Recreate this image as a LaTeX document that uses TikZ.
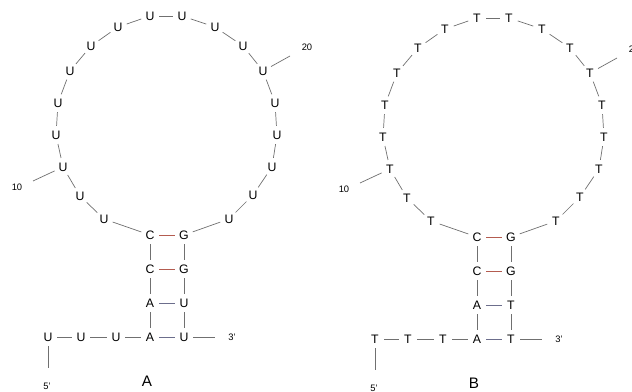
\documentclass[tikz,border=0pt]{standalone}
\usepackage{fontspec}
\setmainfont{Liberation Sans}
\definecolor{bbgray}{RGB}{112,112,112}
\definecolor{pairred}{RGB}{180,92,80}
\definecolor{pairblue}{RGB}{108,110,140}

\begin{document}
\begin{tikzpicture}[x=0.3mm, y=-0.3mm,
    nt/.style={circle, minimum size=5.4mm, inner sep=0pt, font=\fontsize{10.5}{12}\selectfont},
    num/.style={font=\fontsize{8}{9}\selectfont, inner sep=0pt},
    ttl/.style={font=\fontsize{13}{14}\selectfont, inner sep=0pt},
    bb/.style={draw=bbgray, line width=0.6pt},
    gc/.style={draw=pairred, line width=0.7pt},
    au/.style={draw=pairblue, line width=0.7pt}
]
\useasboundingbox (0,0) rectangle (632,392);
\foreach \pname/\base/\dx/\dy in {A/U/0/0, B/T/327/2} {
\begin{scope}[shift={(\dx,\dy)}]
% tail and stem
\node[nt] (n1) at (48,337) {\base};
\node[nt] (n2) at (81,337) {\base};
\node[nt] (n3) at (116,337) {\base};
\node[nt] (n4) at (150,337) {A};
\node[nt] (n5) at (150,303) {A};
\node[nt] (n6) at (150,269) {C};
\node[nt] (n7) at (150,235) {C};
% loop
\foreach \i/\x/\y in {8/104/219, 9/80/196, 10/63/167, 11/56/135, 12/58/103,
    13/70/71, 14/91/46, 15/118/27, 16/150/16, 17/182/16, 18/215/27, 19/243/46,
    20/263/71, 21/275/103, 22/277/135, 23/272/167, 24/253/195, 25/229/219}
  \node[nt] (n\i) at (\x,\y) {\base};
\node[nt] (n26) at (184,235) {G};
\node[nt] (n27) at (184,269) {G};
\node[nt] (n28) at (184,303) {\base};
\node[nt] (n29) at (184,337) {\base};
% backbone
\foreach \i [evaluate=\i as \j using int(\i+1)] in {1,...,28}
  \draw[bb] (n\i) -- (n\j);
% base pairs
\draw[gc] (n7) -- (n26);
\draw[gc] (n6) -- (n27);
\draw[au] (n5) -- (n28);
\draw[au] (n4) -- (n29);
% ends
\coordinate (e5) at (48,368);
\coordinate (e3) at (215,337);
\draw[bb] (n1) -- (e5);
\draw[bb] (n29) -- (e3);
\node[num] (p5) at (47,386) {5'};
\node[num] (p3) at (232,337) {3'};
% numbering
\coordinate (e10) at (33,181);
\coordinate (e20) at (290,56);
\draw[bb] (n10) -- (e10);
\draw[bb] (n20) -- (e20);
\node[num] (t10) at (17,187) {10};
\node[num] (t20) at (307,47) {20};
\node[ttl] (lbl) at (147,381) {\pname};
\end{scope}
}
\end{tikzpicture}
\end{document}
